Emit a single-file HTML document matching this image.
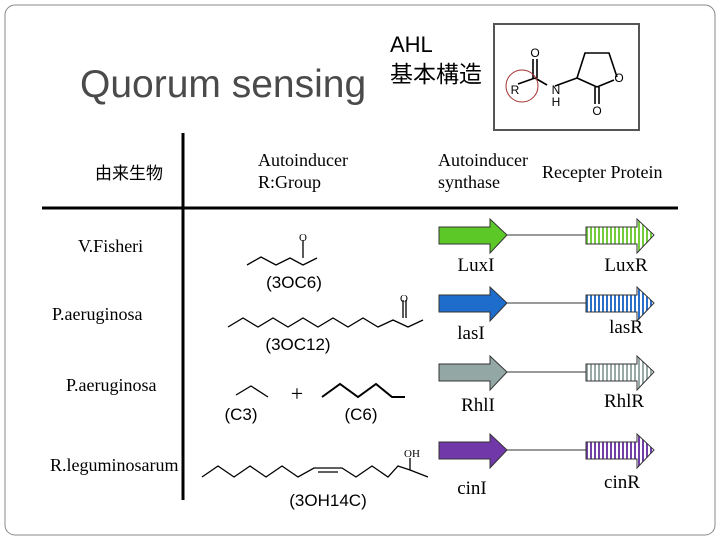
<!DOCTYPE html>
<html><head><meta charset="utf-8"><style>
html,body{margin:0;padding:0;background:#fff;}
svg{display:block;}
.s{font-family:"Liberation Serif",serif;font-size:18px;fill:#000;}
.a{font-family:"Liberation Sans",sans-serif;fill:#000;}
</style></head><body>
<svg width="720" height="540" viewBox="0 0 720 540" xmlns="http://www.w3.org/2000/svg">
<defs>
<pattern id="hg" width="4" height="4" patternUnits="userSpaceOnUse"><rect width="4" height="4" fill="#fff"/><rect width="2" height="4" fill="#74cc3c"/></pattern>
<pattern id="hb" width="4" height="4" patternUnits="userSpaceOnUse"><rect width="4" height="4" fill="#fff"/><rect width="2" height="4" fill="#2a70c8"/></pattern>
<pattern id="hr" width="4" height="4" patternUnits="userSpaceOnUse"><rect width="4" height="4" fill="#fff"/><rect width="2" height="4" fill="#98aaa8"/></pattern>
<pattern id="hp" width="4" height="4" patternUnits="userSpaceOnUse"><rect width="4" height="4" fill="#fff"/><rect width="2" height="4" fill="#7040a8"/></pattern>
<g id="arr"><polygon points="0,-8 51,-8 51,-16 68,0 51,18 51,9 0,9"/></g>
</defs>
<rect x="5" y="5" width="710" height="530" rx="10" fill="none" stroke="#888" stroke-width="1"/>
<text x="80" y="97" class="a" font-size="39" style="fill:#4a4a4a">Quorum sensing</text>
<text x="390" y="52" class="a" font-size="22">AHL</text>
<text x="390" y="82" font-family="'Liberation Sans','Noto Sans CJK JP',sans-serif" font-size="23">基本構造</text>
<!-- AHL structure -->
<rect x="494" y="24" width="145" height="106" fill="#fff" stroke="#555" stroke-width="2"/>
<g stroke="#000" stroke-width="1.6" fill="none">
<line x1="518" y1="84" x2="535" y2="78"/>
<line x1="535" y1="78" x2="547" y2="85"/>
<line x1="533" y1="78" x2="533" y2="59"/><line x1="537" y1="78" x2="537" y2="59"/>
<line x1="555" y1="86" x2="577" y2="78"/>
<polyline points="577,78 585,53 609,53 617,77"/>
<line x1="577" y1="78" x2="597" y2="87"/>
<line x1="597" y1="87" x2="614" y2="80"/>
<line x1="595" y1="87" x2="595" y2="104"/><line x1="599" y1="87" x2="599" y2="104"/>
</g>
<g class="a" font-size="12" text-anchor="middle"><text x="535" y="57">O</text><text x="515" y="94">R</text><text x="556" y="94">N</text><text x="556" y="106">H</text><text x="619" y="82">O</text><text x="597" y="115">O</text></g>
<circle cx="522" cy="86" r="16" fill="none" stroke="#a03030" stroke-width="1"/>
<!-- table lines -->
<line x1="42" y1="208" x2="678" y2="208" stroke="#000" stroke-width="3"/>
<line x1="183" y1="133" x2="183" y2="500" stroke="#000" stroke-width="3"/>
<text x="95" y="179" font-family="'Liberation Sans','Noto Sans CJK JP',sans-serif" font-size="17">由来生物</text>
<text x="258" y="166" class="s">Autoinducer</text><text x="258" y="188" class="s">R:Group</text>
<text x="438" y="166" class="s">Autoinducer</text><text x="438" y="188" class="s">synthase</text>
<text x="542" y="178" class="s">Recepter Protein</text>
<text x="78" y="252" class="s">V.Fisheri</text>
<text x="52" y="320" class="s">P.aeruginosa</text>
<text x="66" y="391" class="s">P.aeruginosa</text>
<text x="50" y="471" class="s">R.leguminosarum</text>
<!-- arrows -->
<g stroke="#333" stroke-width="1">
<line x1="505" y1="235" x2="587" y2="235"/><line x1="505" y1="303" x2="587" y2="303"/>
<line x1="505" y1="372" x2="587" y2="372"/><line x1="505" y1="450" x2="587" y2="450"/>
<use href="#arr" x="439" y="235" fill="#5cc828"/><use href="#arr" x="586" y="235" fill="url(#hg)"/>
<use href="#arr" x="439" y="303" fill="#1e6ccc"/><use href="#arr" x="586" y="303" fill="url(#hb)"/>
<use href="#arr" x="439" y="372" fill="#93a7a5"/><use href="#arr" x="586" y="372" fill="url(#hr)"/>
<use href="#arr" x="439" y="450" fill="#7038a8"/><use href="#arr" x="586" y="450" fill="url(#hp)"/>
</g>
<g class="s" text-anchor="middle" style="font-size:19px">
<text x="476" y="271">LuxI</text><text x="626" y="271">LuxR</text>
<text x="471" y="339">lasI</text><text x="626" y="333">lasR</text>
<text x="478" y="411">RhlI</text><text x="624" y="407">RhlR</text>
<text x="472" y="494">cinI</text><text x="622" y="488">cinR</text>
</g>
<!-- molecules -->
<g stroke="#000" stroke-width="1.3" fill="none">
<polyline points="247,265 261,257 276,265 290,258 303,265 317,258"/>
<line x1="303" y1="258" x2="303" y2="240"/>
<polyline points="228,327 243,318 258,327 273,318 288,327 303,318 318,327 333,318 348,327 363,318 378,327 393,320 408,327 423,320"/>
<line x1="403" y1="318" x2="403" y2="300"/><line x1="406" y1="318" x2="406" y2="300"/>
<polyline points="236,395 251,386 268,397"/>
<polyline points="322,397 340,384 358,397 376,384 392,397 405,397" stroke-width="2"/>
<polyline points="202,477 218,466 234,477 250,466 266,477 282,466 298,477 314,468 342,468 356,477 372,466 388,477 398,466 410,470 428,477"/>
<line x1="318" y1="472" x2="338" y2="472"/>
<line x1="410" y1="470" x2="410" y2="458"/>
</g>
<text x="303" y="241" class="s" style="font-size:11px" text-anchor="middle">O</text>
<text x="404" y="302" class="s" style="font-size:11px" text-anchor="middle">O</text>
<text x="404" y="457" class="s" style="font-size:11px">OH</text>
<text x="297" y="401" class="s" style="font-size:22px" text-anchor="middle">+</text>
<g class="a" font-size="17" text-anchor="middle">
<text x="294" y="288">(3OC6)</text>
<text x="298" y="350">(3OC12)</text>
<text x="241" y="420">(C3)</text>
<text x="361" y="420">(C6)</text>
<text x="328" y="506">(3OH14C)</text>
</g>
</svg>
</body></html>
